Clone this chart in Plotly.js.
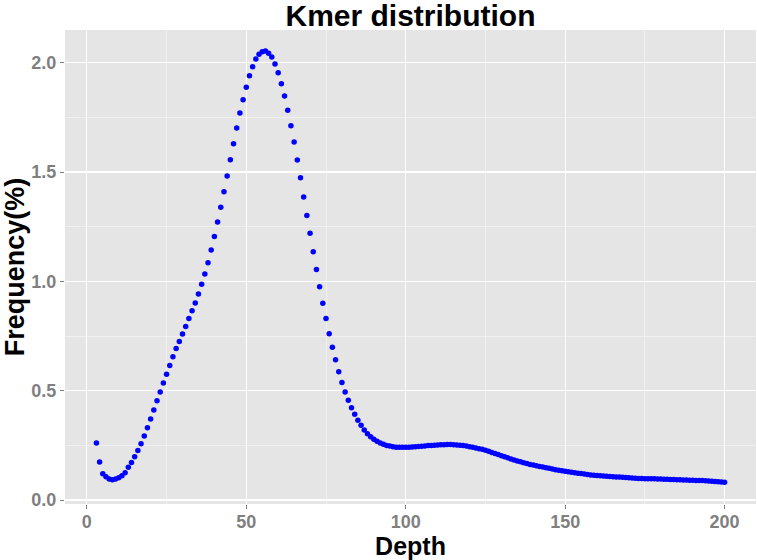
<!DOCTYPE html>
<html>
<head>
<meta charset="utf-8">
<script src="https://cdn.plot.ly/plotly-3.0.1.min.js"></script>
<style>
  html, body { margin: 0; padding: 0; background: #fff; }
  #chart { width: 757px; height: 560px; }
</style>
</head>
<body>
<div id="chart"></div>
<script>
// Kmer depth distribution

const depth = [
  3, 4, 5, 6, 7, 8, 9, 10, 11, 12, 13, 14, 15, 16, 17, 18, 19, 20,
  21, 22, 23, 24, 25, 26, 27, 28, 29, 30, 31, 32, 33, 34, 35, 36, 37, 38, 39, 40,
  41, 42, 43, 44, 45, 46, 47, 48, 49, 50, 51, 52, 53, 54, 55, 56, 57, 58, 59, 60,
  61, 62, 63, 64, 65, 66, 67, 68, 69, 70, 71, 72, 73, 74, 75, 76, 77, 78, 79, 80,
  81, 82, 83, 84, 85, 86, 87, 88, 89, 90, 91, 92, 93, 94, 95, 96, 97, 98, 99, 100,
  101, 102, 103, 104, 105, 106, 107, 108, 109, 110, 111, 112, 113, 114, 115, 116, 117, 118, 119, 120,
  121, 122, 123, 124, 125, 126, 127, 128, 129, 130, 131, 132, 133, 134, 135, 136, 137, 138, 139, 140,
  141, 142, 143, 144, 145, 146, 147, 148, 149, 150, 151, 152, 153, 154, 155, 156, 157, 158, 159, 160,
  161, 162, 163, 164, 165, 166, 167, 168, 169, 170, 171, 172, 173, 174, 175, 176, 177, 178, 179, 180,
  181, 182, 183, 184, 185, 186, 187, 188, 189, 190, 191, 192, 193, 194, 195, 196, 197, 198, 199, 200
];

const frequency = [
  0.261, 0.174, 0.120, 0.107, 0.096, 0.093, 0.096, 0.102, 0.111, 0.125, 0.150, 0.172, 0.198, 0.227, 0.258, 0.293, 0.331, 0.371,
  0.412, 0.454, 0.494, 0.535, 0.576, 0.616, 0.656, 0.693, 0.725, 0.759, 0.794, 0.830, 0.866, 0.901, 0.942, 0.987, 1.034, 1.086, 1.144, 1.205,
  1.272, 1.339, 1.410, 1.482, 1.557, 1.630, 1.702, 1.770, 1.831, 1.888, 1.941, 1.982, 2.017, 2.039, 2.050, 2.054, 2.044, 2.027, 1.995, 1.955,
  1.904, 1.848, 1.783, 1.712, 1.638, 1.555, 1.474, 1.386, 1.302, 1.220, 1.136, 1.055, 0.976, 0.900, 0.830, 0.761, 0.699, 0.642, 0.587, 0.538,
  0.494, 0.456, 0.422, 0.392, 0.365, 0.342, 0.320, 0.303, 0.290, 0.278, 0.269, 0.261, 0.255, 0.250, 0.247, 0.244, 0.242, 0.241, 0.241, 0.241,
  0.242, 0.243, 0.244, 0.245, 0.246, 0.247, 0.249, 0.250, 0.251, 0.252, 0.253, 0.253, 0.254, 0.254, 0.253, 0.252, 0.251, 0.249, 0.247, 0.244,
  0.241, 0.238, 0.235, 0.232, 0.228, 0.223, 0.218, 0.213, 0.208, 0.203, 0.198, 0.193, 0.188, 0.183, 0.179, 0.175, 0.171, 0.167, 0.163, 0.160,
  0.157, 0.154, 0.151, 0.148, 0.145, 0.142, 0.139, 0.136, 0.134, 0.132, 0.129, 0.127, 0.125, 0.123, 0.121, 0.119, 0.117, 0.115, 0.113, 0.112,
  0.111, 0.110, 0.109, 0.108, 0.107, 0.106, 0.105, 0.104, 0.103, 0.102, 0.101, 0.100, 0.099, 0.099, 0.098, 0.098, 0.097, 0.097, 0.096, 0.096,
  0.095, 0.095, 0.094, 0.094, 0.093, 0.093, 0.092, 0.092, 0.091, 0.091, 0.090, 0.089, 0.089, 0.088, 0.087, 0.086, 0.085, 0.084, 0.083, 0.082
];

const xTicks = [0, 50, 100, 150, 200];
const yTicks = [0, 0.5, 1, 1.5, 2];
const yTickLabels = ["0.0", "0.5", "1.0", "1.5", "2.0"];

const FONT = "'Liberation Sans Narrow', 'Arial Narrow', 'Liberation Sans', Arial, sans-serif";

const points = {
  type: "scatter",
  mode: "markers",
  x: depth,
  y: frequency,
  marker: { color: "#0000FF", size: 5.5, line: { width: 0 } },
  hoverinfo: "x+y",
};

const axisBase = {
  showline: false,
  zeroline: false,
  gridcolor: "#FFFFFF",
  gridwidth: 1.3,
  ticks: "outside",
  ticklen: 4,
  tickwidth: 1,
  tickcolor: "#7F7F7F",
  tickfont: { family: FONT, size: 18, color: "#7F7F7F", weight: "bold" },
};

Plotly.newPlot("chart", [points], {
  width: 757,
  height: 560,
  paper_bgcolor: "#FFFFFF",
  plot_bgcolor: "#E5E5E5",
  showlegend: false,
  margin: { l: 65, r: 1, t: 30, b: 56 },
  title: {
    text: "Kmer distribution",
    font: { family: FONT, size: 30, color: "#000000", weight: "bold" },
    xref: "paper", x: 0.5, xanchor: "center",
    yref: "container", y: 0.973, yanchor: "middle",
  },
  xaxis: {
    ...axisBase,
    range: [-6.85, 209.85],
    tickvals: xTicks,
    ticktext: xTicks.map(String),
    ticklabelstandoff: -3,
    minor: { dtick: 25, tick0: 25, showgrid: true, gridcolor: "#F2F2F2", gridwidth: 0.8, ticks: "" },
    title: { text: "Depth", standoff: 6, font: { family: FONT, size: 25, color: "#000000", weight: "bold" } },
  },
  yaxis: {
    ...axisBase,
    range: [-0.018, 2.15],
    tickvals: yTicks,
    ticktext: yTickLabels,
    minor: { dtick: 0.25, tick0: 0.25, showgrid: true, gridcolor: "#F2F2F2", gridwidth: 0.8, ticks: "" },
    title: { text: "Frequency(%)", standoff: 8, font: { family: FONT, size: 27, color: "#000000", weight: "bold" } },
  },
}, { displayModeBar: false, staticPlot: true });
</script>
</body>
</html>
